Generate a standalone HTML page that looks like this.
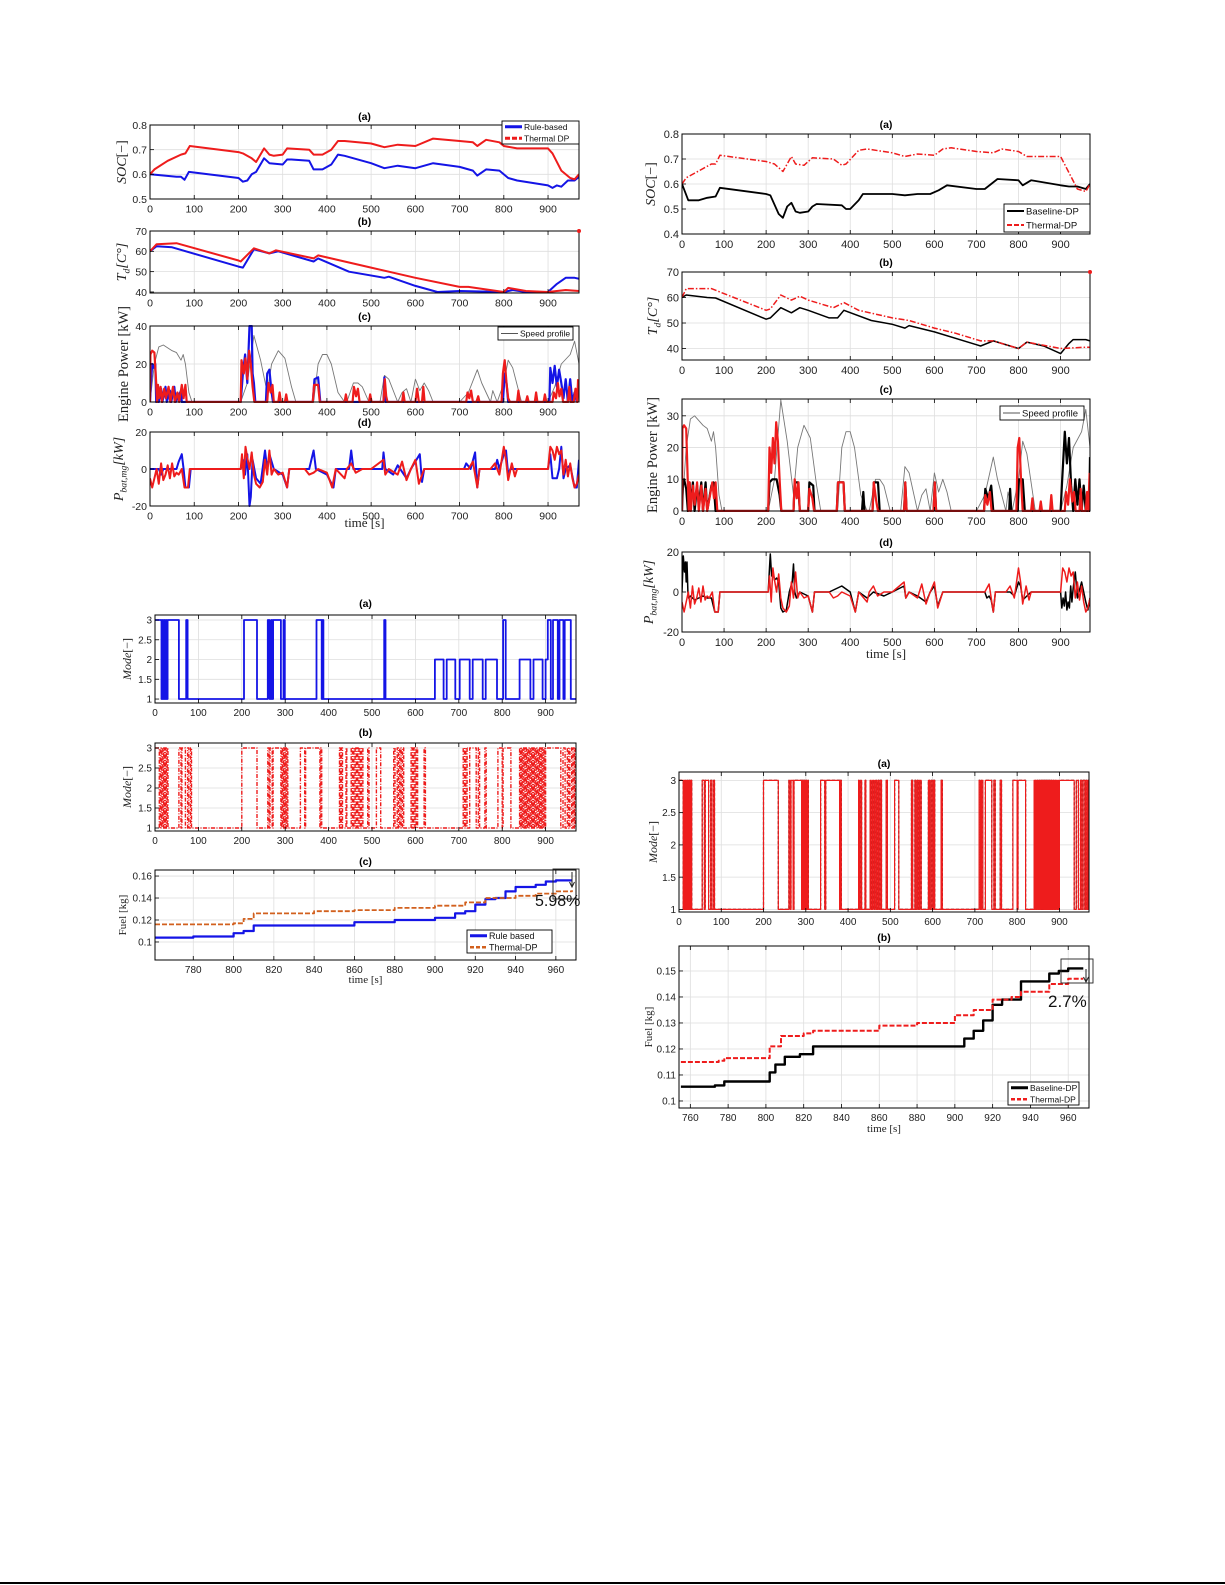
<!DOCTYPE html>
<html><head><meta charset="utf-8"><title>Rule-based vs Thermal-DP vs Baseline-DP comparison figures</title>
<style>
html,body{margin:0;padding:0;background:#fff;}
svg{display:block;}
text{font-family:"Liberation Sans",sans-serif;}
.serif{font-family:"Liberation Serif",serif;}
</style></head>
<body>
<svg id="fig" width="1225" height="1585" viewBox="0 0 1225 1585" xmlns="http://www.w3.org/2000/svg">
<rect x="0" y="0" width="1225" height="1585" fill="#fff"/>
<line x1="0" y1="1583" x2="1225" y2="1583" stroke="#000" stroke-width="2"/>
</svg>
<script>
// ===== DATA =====
const xTicks = [0,100,200,300,400,500,600,700,800,900];
const socTicks = [0.5,0.6,0.7,0.8];
const socTicksR = [0.4,0.5,0.6,0.7,0.8];
const tempTicks = [40,50,60,70];
const powTicksL = [0,20,40];
const powTicksR = [0,10,20,30];
const pbatTicks = [-20,0,20];
const modeTicks = [1,1.5,2,2.5,3];
const fuelTicksL = [0.1,0.12,0.14,0.16];
const fuelTicksR = [0.1,0.11,0.12,0.13,0.14,0.15];
const fuelXTicksL = [780,800,820,840,860,880,900,920,940,960];
const fuelXTicksR = [760,780,800,820,840,860,880,900,920,940,960];

const socRule = [[0,0.60],[60,0.59],[70,0.59],[78,0.578],[88,0.61],[200,0.585],[210,0.57],[220,0.575],[230,0.60],[240,0.61],[258,0.665],[270,0.645],[300,0.64],[310,0.66],[320,0.66],[360,0.655],[370,0.62],[390,0.62],[410,0.64],[425,0.68],[440,0.675],[500,0.645],[530,0.625],[560,0.635],[600,0.625],[640,0.645],[700,0.63],[730,0.615],[740,0.595],[760,0.62],[790,0.615],[810,0.585],[830,0.575],[900,0.555],[910,0.545],[920,0.555],[930,0.55],[945,0.575],[960,0.575],[970,0.59]];
const socThermal = [[0,0.60],[10,0.62],[40,0.655],[70,0.68],[80,0.685],[90,0.715],[200,0.69],[210,0.685],[230,0.665],[240,0.65],[258,0.705],[270,0.68],[280,0.675],[300,0.68],[310,0.705],[360,0.70],[370,0.68],[390,0.68],[410,0.70],[425,0.735],[440,0.735],[500,0.725],[530,0.71],[560,0.72],[600,0.715],[640,0.745],[700,0.735],[730,0.73],[740,0.715],[760,0.74],[790,0.73],[800,0.715],[830,0.705],[900,0.705],[910,0.685],[930,0.615],[950,0.585],[960,0.58],[970,0.60]];
const tempRule = [[0,60],[15,62.5],[50,62],[200,52.5],[210,52],[235,61],[270,59],[290,60],[370,55],[380,56.5],[450,50],[530,47],[540,47.5],[600,43],[650,40],[700,40.5],[800,40],[820,41],[850,40],[900,40],[920,44],[940,47],[960,47],[970,46.5]];
const tempThermal = [[0,60],[15,63.5],[60,64],[200,55.5],[205,55],[235,61.5],[270,59],[285,60.5],[370,56.5],[380,58],[500,52],[600,47],[700,42.5],[720,42.5],[800,40],[810,42],[850,40.5],[900,40],[940,41],[970,40.5]];
const speedProfile = [[0,0],[10,20],[20,29],[30,30],[50,27],[60,26],[70,22],[75,25],[80,20],[88,5],[95,0],[205,0],[220,10],[235,35],[250,22],[265,5],[275,20],[290,27],[305,23],[320,8],[330,0],[370,0],[380,20],[390,25],[400,25],[410,20],[425,5],[440,0],[445,0],[460,10],[470,10],[480,8],[495,0],[520,0],[530,14],[540,12],[560,0],[570,5],[580,7],[590,0],[600,12],[610,6],[620,10],[630,6],[640,0],[700,0],[720,5],[740,17],[750,10],[770,0],[775,6],[785,0],[800,10],[810,22],[820,18],[840,0],[900,0],[915,8],[930,20],[950,25],[960,32],[970,20]];
const powRule = [[0,0],[2,10],[5,20],[8,18],[12,20],[14,0],[18,8],[20,0],[25,7],[28,0],[35,8],[38,0],[45,6],[48,0],[55,8],[58,0],[70,6],[72,0],[205,0],[210,15],[215,25],[220,10],[225,40],[230,40],[232,15],[235,10],[238,0],[262,0],[265,15],[270,17],[275,5],[278,0],[368,0],[372,12],[380,13],[385,0],[528,0],[530,13],[533,0],[798,0],[802,15],[806,10],[810,0],[903,0],[905,18],[910,10],[915,19],[920,8],[925,17],[930,10],[935,2],[940,12],[945,0],[950,12],[955,0],[960,5],[965,0]];
const powThermal = [[0,0],[1,25],[5,27],[10,26],[14,10],[16,0],[18,9],[20,2],[24,8],[27,0],[32,7],[36,2],[42,8],[46,0],[52,8],[56,0],[62,5],[66,0],[72,9],[76,2],[80,9],[83,0],[205,0],[207,22],[212,15],[216,23],[220,12],[224,27],[228,20],[232,8],[236,0],[265,0],[268,10],[273,5],[277,9],[280,0],[290,0],[293,5],[296,0],[305,0],[308,4],[311,0],[368,0],[371,9],[380,9],[384,0],[440,0],[443,4],[446,0],[458,0],[461,8],[466,3],[470,7],[474,0],[495,0],[498,4],[501,0],[528,0],[531,12],[534,3],[537,0],[570,0],[573,5],[576,0],[600,0],[604,7],[608,0],[615,0],[618,8],[621,0],[715,0],[718,5],[722,2],[726,6],[730,0],[738,0],[742,3],[745,0],[795,0],[798,15],[802,22],[806,10],[810,2],[814,0],[830,0],[833,6],[836,0],[850,0],[853,3],[856,0],[870,0],[873,5],[876,0],[890,0],[893,4],[896,0],[910,0],[913,5],[918,2],[922,10],[926,3],[930,7],[934,0],[945,0],[948,8],[951,0],[958,0],[962,7],[966,0],[968,12]];
const pbatRule = [[0,0],[20,0],[25,-3],[30,0],[60,0],[65,4],[72,8],[76,0],[80,-10],[88,-10],[92,0],[205,0],[210,5],[215,-3],[220,8],[225,-20],[228,-15],[232,5],[240,-5],[250,-8],[260,10],[265,0],[270,8],[280,0],[300,-3],[310,-10],[315,0],[360,0],[370,10],[375,0],[400,-3],[415,-10],[420,0],[450,0],[455,10],[460,0],[500,0],[525,0],[528,9],[532,0],[550,-3],[560,2],[580,-5],[590,0],[610,8],[615,-7],[620,0],[710,0],[715,3],[725,0],[735,9],[740,-10],[745,0],[780,0],[785,5],[790,0],[800,8],[805,10],[810,-3],[815,0],[900,0],[905,8],[910,-5],[920,-5],[925,0],[930,12],[935,-5],[940,0],[950,2],[960,-10],[965,-10],[970,5]];
const pbatThermal = [[0,-5],[5,-10],[10,-5],[15,0],[20,-8],[25,3],[30,-6],[35,-3],[40,2],[45,-5],[50,3],[55,-4],[60,-2],[65,-3],[72,0],[78,-10],[86,-10],[90,0],[205,0],[208,8],[212,-5],[216,12],[220,6],[225,0],[230,9],[235,-3],[240,-8],[248,-10],[255,-7],[260,5],[265,-3],[270,10],[275,-3],[280,0],[290,-3],[300,-2],[310,-10],[315,0],[350,0],[360,-3],[370,-2],[380,0],[400,-2],[412,-10],[420,0],[440,-5],[445,0],[455,3],[465,-2],[480,0],[500,0],[528,5],[532,-3],[540,0],[560,-3],[570,4],[580,-6],[590,0],[600,5],[608,-8],[620,0],[700,0],[720,0],[730,4],[740,-10],[745,0],[770,0],[780,3],[790,-3],[800,12],[805,5],[810,-6],[818,3],[825,-4],[830,0],[900,0],[905,12],[910,10],[915,5],[920,12],[925,8],[930,10],[935,-3],[940,5],[945,-4],[950,3],[955,-5],[960,-10],[965,-8],[970,-3]];
const socBaseline = [[0,0.6],[15,0.535],[40,0.535],[60,0.545],[80,0.55],[90,0.585],[200,0.56],[210,0.555],[230,0.48],[240,0.465],[250,0.51],[260,0.525],[270,0.49],[280,0.485],[300,0.49],[310,0.51],[320,0.52],[380,0.515],[390,0.5],[400,0.5],[420,0.535],[430,0.56],[500,0.56],[530,0.555],[560,0.56],[590,0.56],[610,0.575],[630,0.595],[700,0.58],[720,0.58],[750,0.62],[800,0.615],[810,0.595],[830,0.615],[900,0.595],[920,0.59],[940,0.59],[960,0.58],[970,0.60]];
const socThermalR = [[0,0.6],[10,0.625],[70,0.68],[80,0.68],[90,0.715],[200,0.69],[220,0.68],[240,0.65],[260,0.71],[270,0.68],[290,0.675],[310,0.705],[360,0.7],[380,0.675],[390,0.68],[420,0.735],[440,0.74],[500,0.725],[530,0.71],[560,0.72],[600,0.715],[620,0.74],[640,0.745],[700,0.73],[740,0.725],[760,0.74],[800,0.73],[820,0.71],[900,0.71],[940,0.58],[960,0.57],[970,0.60]];
const tempBaseline = [[0,60],[10,61],[60,60],[80,59.8],[200,51.5],[210,52],[235,56],[260,54],[280,56],[300,55],[350,52],[370,52],[385,55],[450,51],[500,49.5],[530,48],[540,49],[600,46.5],[700,41.5],[710,41],[740,43],[800,40],[820,42.5],[860,41],[900,38],[920,42],[930,43.5],[960,43.5],[970,43]];
const tempThermalR = [[0,60],[10,63.5],[70,63.5],[200,55],[210,55.5],[235,61],[260,59],[280,60.5],[300,59],[360,56],[385,58],[420,55],[500,52],[540,51],[600,48],[650,46],[710,43],[740,43],[800,40],[820,42.5],[900,40],[960,40.5],[970,40.5]];
const powBaseline = [[0,0],[2,8],[5,10],[10,7],[14,0],[18,9],[21,2],[26,9],[30,0],[36,8],[40,2],[46,9],[50,0],[56,9],[60,0],[70,8],[75,9],[80,0],[205,0],[208,9],[215,10],[225,10],[232,5],[236,0],[265,0],[268,9],[276,9],[280,0],[300,0],[303,9],[312,8],[315,0],[368,0],[371,9],[384,9],[387,0],[428,0],[431,6],[434,0],[453,0],[456,9],[466,9],[470,0],[528,0],[531,9],[534,0],[598,0],[601,9],[604,0],[718,0],[721,7],[728,4],[735,8],[740,0],[778,0],[780,7],[783,0],[798,0],[801,10],[810,10],[815,0],[900,0],[904,10],[910,25],[915,15],[920,23],[925,8],[930,0],[935,10],[940,2],[945,10],[950,0],[955,8],[960,0],[968,0],[970,17]];
const powThermalR = [[0,0],[1,26],[5,27],[10,26],[14,8],[16,0],[18,9],[21,0],[26,8],[30,2],[36,9],[40,0],[46,8],[50,0],[56,7],[60,0],[72,9],[76,4],[80,9],[84,0],[205,0],[208,20],[212,12],[216,23],[220,15],[224,28],[228,22],[232,10],[236,0],[265,0],[268,10],[273,4],[277,9],[280,0],[300,0],[303,7],[310,4],[314,0],[368,0],[371,9],[384,9],[387,0],[453,0],[456,9],[462,3],[466,0],[528,0],[531,9],[534,0],[598,0],[601,9],[604,0],[718,0],[721,5],[726,2],[732,6],[736,0],[795,0],[798,20],[802,23],[806,10],[810,0],[830,0],[833,4],[836,0],[850,0],[853,3],[856,0],[875,0],[878,5],[881,0],[910,0],[913,6],[918,2],[922,10],[928,3],[932,6],[936,0],[945,0],[948,7],[951,0],[960,0],[963,6],[966,0],[969,12]];
const pbatBaselineT = [0,3,6,8,10,12,14,16,20,30,40,50,60,70,78,86,90,205,208,210,213,216,220,225,230,235,240,248,255,262,265,268,272,280,300,310,315,350,380,400,412,420,440,455,480,500,528,532,540,560,580,590,600,608,620,700,720,725,730,735,740,745,780,790,800,805,810,820,830,900,903,906,909,912,915,918,921,924,927,930,935,940,950,960,965,970];
const pbatBaselineV = [0,18,10,15,5,15,0,-3,-2,-4,-3,-2,-3,-3,-10,-10,0,0,12,19,8,10,6,7,5,-8,-10,-9,0,5,14,0,-3,0,-2,-10,0,0,3,0,-10,0,-3,0,-2,0,3,-3,0,-2,-5,0,3,-7,0,0,0,-3,-2,-4,-10,0,0,-2,5,3,-4,-2,0,0,-8,-3,-7,0,-9,-5,-8,3,-5,2,10,-3,5,-5,-9,-3];
const modeRule = [[0,3],[15,1],[17,3],[19,1],[21,3],[23,1],[25,3],[27,1],[29,3],[55,1],[72,3],[75,1],[205,3],[235,1],[260,3],[264,1],[268,3],[270,1],[272,3],[290,1],[296,3],[299,1],[372,3],[384,1],[386,3],[388,1],[528,3],[531,1],[645,2],[665,1],[672,2],[692,1],[702,2],[725,1],[732,2],[755,1],[762,2],[788,1],[802,3],[808,1],[840,2],[865,1],[872,2],[893,1],[900,2],[905,3],[912,1],[917,3],[928,1],[932,3],[941,1],[944,3],[958,1],[970,1]];
const modeThermal = [[0,3],[10,1],[12,3],[14,1],[16,3],[18,1],[20,3],[22,1],[24,3],[26,1],[28,3],[30,1],[55,3],[60,1],[62,3],[70,1],[75,3],[78,1],[82,3],[84,1],[200,3],[235,1],[260,3],[263,1],[265,3],[270,1],[272,3],[290,1],[292,3],[294,1],[296,3],[298,1],[300,3],[302,1],[304,3],[306,1],[335,3],[345,1],[347,3],[380,1],[382,3],[384,1],[425,3],[427,1],[430,3],[432,1],[440,3],[442,1],[452,3],[455,1],[458,3],[461,1],[464,3],[467,1],[470,3],[473,1],[476,3],[479,1],[490,3],[493,1],[510,3],[520,1],[550,3],[553,1],[558,3],[561,1],[564,3],[567,1],[570,3],[573,1],[590,3],[593,1],[596,3],[599,1],[602,3],[605,1],[620,3],[623,1],[710,3],[713,1],[716,3],[719,1],[725,3],[740,1],[745,3],[748,1],[760,3],[763,1],[790,3],[800,1],[802,3],[820,1],[840,3],[842,1],[844,3],[846,1],[848,3],[850,1],[852,3],[854,1],[856,3],[858,1],[860,3],[862,1],[864,3],[866,1],[868,3],[870,1],[872,3],[874,1],[876,3],[878,1],[880,3],[882,1],[884,3],[886,1],[888,3],[890,1],[892,3],[894,1],[896,3],[898,1],[900,3],[935,1],[940,3],[945,1],[950,3],[953,1],[956,3],[960,1],[963,3],[966,1],[968,3],[970,3]];
const fuelRule = [[761,0.104],[780,0.105],[800,0.108],[805,0.110],[810,0.115],[840,0.115],[860,0.118],[880,0.120],[900,0.122],[910,0.126],[915,0.128],[920,0.134],[925,0.139],[930,0.140],[935,0.146],[940,0.150],[945,0.150],[950,0.152],[955,0.155],[960,0.156],[968,0.156]];
const fuelThermal = [[761,0.116],[800,0.117],[805,0.121],[810,0.126],[840,0.128],[860,0.129],[880,0.131],[900,0.133],[915,0.136],[925,0.140],[940,0.142],[950,0.144],[960,0.146],[968,0.147]];
const fuelBaseline = [[755,0.1055],[773,0.106],[778,0.1075],[798,0.1075],[802,0.111],[805,0.114],[810,0.117],[818,0.118],[825,0.121],[900,0.121],[905,0.124],[910,0.127],[915,0.131],[920,0.137],[925,0.139],[935,0.146],[945,0.146],[950,0.149],[955,0.150],[960,0.151],[968,0.151]];
const fuelThermalR = [[755,0.115],[775,0.1155],[778,0.1165],[798,0.1165],[802,0.121],[808,0.125],[820,0.126],[825,0.127],[845,0.127],[860,0.129],[880,0.130],[900,0.133],[910,0.135],[920,0.139],[930,0.140],[935,0.142],[945,0.142],[950,0.145],[960,0.147],[968,0.147]];

// ===== RENDERING =====
const NS = 'http://www.w3.org/2000/svg';
const svg = document.getElementById('fig');
let clipN = 0;
function mk(tag, parent) { const e = document.createElementNS(NS, tag); parent.appendChild(e); return e; }
function attrs(e, o) { for (const k in o) e.setAttribute(k, o[k]); return e; }
function fmt(v) { return String(v); }

function panel(name, box, xd, yd, xt, yt) {
  const g = mk('g', svg);
  
  
  const sx = v => box.x0 + (v - xd[0]) / (xd[1] - xd[0]) * (box.x1 - box.x0);
  const sy = v => box.y1 - (v - yd[0]) / (yd[1] - yd[0]) * (box.y1 - box.y0);
  const grid = mk('g', g);
  
  
  xt.forEach(t => { const l = mk('line', grid); attrs(l, {x1: sx(t), x2: sx(t), y1: box.y0, y2: box.y1, stroke: '#dedede', 'stroke-width': 0.8}); });
  yt.forEach(t => { const l = mk('line', grid); attrs(l, {x1: box.x0, x2: box.x1, y1: sy(t), y2: sy(t), stroke: '#dedede', 'stroke-width': 0.8}); });
  const id = 'clip' + (clipN++);
  const cp = mk('clipPath', g); cp.setAttribute('id', id);
  const cr = mk('rect', cp); attrs(cr, {x: box.x0, y: box.y0 - 1, width: box.x1 - box.x0, height: box.y1 - box.y0 + 2});
  const sg = mk('g', g); sg.setAttribute('clip-path', 'url(#' + id + ')');
  
  
  return {g, sg, sx, sy, box, xt, yt, name};
}

function axes(p, fs, ytLabels, xtLabels) {
  const {g, sx, sy, box} = p;
  const fr = mk('rect', g);
  attrs(fr, {x: box.x0, y: box.y0, width: box.x1 - box.x0, height: box.y1 - box.y0, fill: 'none', stroke: '#000', 'stroke-width': 1});
  
  
  const xa = mk('g', g);
  
  
  p.xt.forEach((t, i) => {
    const l = mk('line', xa); attrs(l, {x1: sx(t), x2: sx(t), y1: box.y1, y2: box.y1 - 4, stroke: '#000', 'stroke-width': 0.8});
    const l2 = mk('line', xa); attrs(l2, {x1: sx(t), x2: sx(t), y1: box.y0, y2: box.y0 + 4, stroke: '#000', 'stroke-width': 0.8});
    const tx = mk('text', xa); attrs(tx, {x: sx(t), y: box.y1 + fs + 3, 'font-size': fs, 'text-anchor': 'middle', fill: '#222'});
    tx.textContent = xtLabels ? xtLabels[i] : fmt(t);
  });
  const ya = mk('g', g);
  
  
  p.yt.forEach((t, i) => {
    const l = mk('line', ya); attrs(l, {x1: box.x0, x2: box.x0 + 4, y1: sy(t), y2: sy(t), stroke: '#000', 'stroke-width': 0.8});
    const tx = mk('text', ya); attrs(tx, {x: box.x0 - 3, y: sy(t) + fs * 0.36, 'font-size': fs, 'text-anchor': 'end', fill: '#222'});
    tx.textContent = ytLabels ? ytLabels[i] : fmt(t);
  });
}

function title(p, txt, y) {
  const t = mk('text', p.g);
  attrs(t, {x: (p.box.x0 + p.box.x1) / 2, y: y, 'font-size': 10.5, 'font-weight': 'bold', 'text-anchor': 'middle'});
  t.textContent = txt;
  
  
}

function ylabel(p, parts, x, fs) {
  const cy = (p.box.y0 + p.box.y1) / 2;
  const t = mk('text', p.g);
  attrs(t, {x: x, y: cy, 'font-size': fs, 'text-anchor': 'middle', transform: 'rotate(-90 ' + x + ' ' + cy + ')', class: 'serif', fill: '#222'});
  
  
  parts.forEach(pt => {
    const s = mk('tspan', t);
    s.textContent = pt[0];
    if (pt[1] === 'i') s.setAttribute('font-style', 'italic');
    if (pt[1] === 'sub') { s.setAttribute('font-style', 'italic'); s.setAttribute('font-size', fs * 0.7); s.setAttribute('dy', fs * 0.25); }
    if (pt[1] === 'back') { s.setAttribute('font-style', 'italic'); s.setAttribute('dy', -fs * 0.25); }
  });
}

function xlabel(p, y, fs) {
  const t = mk('text', p.g);
  attrs(t, {x: (p.box.x0 + p.box.x1) / 2, y: y, 'font-size': fs, 'text-anchor': 'middle', class: 'serif', fill: '#222'});
  t.textContent = 'time [s]';
  
  
}

function series(p, data, name, color, w, dash, step) {
  let d = '';
  data.forEach((pt, i) => {
    const x = p.sx(pt[0]), y = p.sy(pt[1]);
    if (i === 0) d += 'M' + x.toFixed(1) + ' ' + y.toFixed(1);
    else if (step) d += 'H' + x.toFixed(1) + 'V' + y.toFixed(1);
    else d += 'L' + x.toFixed(1) + ' ' + y.toFixed(1);
  });
  const path = mk('path', p.sg);
  attrs(path, {d: d, fill: 'none', stroke: color, 'stroke-width': w, 'stroke-linejoin': 'round'});
  if (dash) path.setAttribute('stroke-dasharray', dash);
  
  
  return path;
}

function legend(x, y, w, h, entries, name, fs) {
  const g = mk('g', svg);
  
  
  const r = mk('rect', g); attrs(r, {x: x, y: y, width: w, height: h, fill: '#fff', stroke: '#000', 'stroke-width': 0.9});
  const rowH = h / entries.length;
  entries.forEach((e, i) => {
    const cy = y + rowH * (i + 0.5);
    const eg = mk('g', g);
    
    
    const l = mk('line', eg); attrs(l, {x1: x + 3, x2: x + 20, y1: cy, y2: cy, stroke: e.color, 'stroke-width': e.w});
    if (e.dash) l.setAttribute('stroke-dasharray', e.dash);
    const t = mk('text', eg); attrs(t, {x: x + 22, y: cy + fs * 0.36, 'font-size': fs, fill: '#111'});
    t.textContent = e.label;
  });
}

function note(x, y, txt, name, fs) {
  const t = mk('text', svg); attrs(t, {x: x, y: y, 'font-size': fs, fill: '#111'});
  t.textContent = txt;
  
  
}

const XD = [0, 970];
const BLUE = '#1414e6', RED = '#ee1c1c', ORANGE = '#d2601e';

// ---------- LEFT COLUMN ----------
let p;
p = panel('left-soc-panel', {x0:150,x1:579,y0:125,y1:199}, XD, [0.5,0.8], xTicks, socTicks);
series(p, socRule, 'rule-based-soc-line', BLUE, 2, null, false);
series(p, socThermal, 'thermal-dp-soc-line', RED, 2, null, false);
axes(p, 10.5, ['0.5','0.6','0.7','0.8']); title(p, '(a)', 120);
ylabel(p, [['SOC','i'],['[−]','']], 126, 14);
legend(502, 121, 77, 23, [{key:'rule-based',label:'Rule-based',color:BLUE,w:3},{key:'thermal-dp',label:'Thermal DP',color:RED,w:3,dash:'5 2'}], 'left-soc-legend', 8.5);

p = panel('left-temp-panel', {x0:150,x1:579,y0:231,y1:293}, XD, [39.5,70], xTicks, tempTicks);
series(p, tempRule, 'rule-based-temp-line', BLUE, 2, null, false);
series(p, tempThermal, 'thermal-dp-temp-line', RED, 2, null, false);
axes(p, 10.5); title(p, '(b)', 225);
ylabel(p, [['T','i'],['d','sub'],['[C°]','back']], 126, 14);
{ const c = mk('circle', p.g); attrs(c, {cx: p.sx(970), cy: p.sy(70), r: 2, fill: RED});   }

p = panel('left-power-panel', {x0:150,x1:579,y0:326,y1:402}, XD, [0,40], xTicks, powTicksL);
series(p, speedProfile, 'speed-profile-line', '#777', 0.9, null, false);
series(p, powRule, 'rule-based-power-line', BLUE, 2.2, null, false);
series(p, powThermal, 'thermal-dp-power-line', RED, 2.2, null, false);
axes(p, 10.5); title(p, '(c)', 320);
ylabel(p, [['Engine Power [kW]','']], 128, 14.5);
legend(498, 327, 75, 13, [{key:'speed-profile',label:'Speed profile',color:'#555',w:0.9}], 'left-power-legend', 8.5);

p = panel('left-pbat-panel', {x0:150,x1:579,y0:432,y1:506}, XD, [-20,20], xTicks, pbatTicks);
series(p, pbatRule, 'rule-based-pbat-line', BLUE, 2, null, false);
series(p, pbatThermal, 'thermal-dp-pbat-line', RED, 2, null, false);
axes(p, 10.5); title(p, '(d)', 426);
ylabel(p, [['P','i'],['bat,mg','sub'],['[kW]','back']], 123, 14);
xlabel(p, 527, 13);

p = panel('left-mode-rule-panel', {x0:155,x1:576,y0:615,y1:703}, XD, [0.9,3.127], xTicks, modeTicks);
series(p, modeRule, 'rule-based-mode-line', BLUE, 1.8, null, true);
axes(p, 10); title(p, '(a)', 607);
ylabel(p, [['Mode','i'],['[−]','']], 131, 12);

p = panel('left-mode-thermal-panel', {x0:155,x1:576,y0:743,y1:831}, XD, [0.925,3.125], xTicks, modeTicks);
series(p, modeThermal, 'thermal-dp-mode-line', RED, 1.4, '4 1.5 1 1.5', true);
axes(p, 10); title(p, '(b)', 736);
ylabel(p, [['Mode','i'],['[−]','']], 131, 12);

p = panel('left-fuel-panel', {x0:155,x1:576,y0:870,y1:960}, [761,970], [0.0836,0.1655], fuelXTicksL, fuelTicksL);
series(p, fuelRule, 'rule-based-fuel-line', BLUE, 2.2, null, true);
series(p, fuelThermal, 'thermal-dp-fuel-line', ORANGE, 1.8, '5 2', true);
axes(p, 10, ['0.1','0.12','0.14','0.16']); title(p, '(c)', 865);
ylabel(p, [['Fuel [kg]','']], 126, 11);
xlabel(p, 983, 11);
legend(467, 930, 85, 23, [{key:'rule-based-fuel',label:'Rule based',color:BLUE,w:3},{key:'thermal-dp-fuel',label:'Thermal-DP',color:ORANGE,w:2.5,dash:'4 2'}], 'left-fuel-legend', 9);
{ const r = mk('rect', svg); attrs(r, {x:553, y:869, width:26, height:30, fill:'none', stroke:'#222', 'stroke-width':0.9});  
  const a = mk('path', svg); attrs(a, {d:'M572 872 V886 M569.5 882 L572 887 L574.5 882', fill:'none', stroke:'#222', 'stroke-width':1});   }
note(535, 906, '5.98%', 'left-fuel-percent-label', 16);

// ---------- RIGHT COLUMN ----------
p = panel('right-soc-panel', {x0:682,x1:1090,y0:134,y1:234}, XD, [0.4,0.8], xTicks, socTicksR);
series(p, socBaseline, 'baseline-dp-soc-line', '#000', 1.8, null, false);
series(p, socThermalR, 'thermal-dp-soc-line-right', RED, 1.5, '6 2 1.5 2', false);
axes(p, 11); title(p, '(a)', 128);
ylabel(p, [['SOC','i'],['[−]','']], 655, 14);
legend(1004, 204, 86, 28, [{key:'baseline-dp',label:'Baseline-DP',color:'#000',w:2},{key:'thermal-dp-right',label:'Thermal-DP',color:RED,w:2,dash:'5 2'}], 'right-soc-legend', 9.5);

p = panel('right-temp-panel', {x0:682,x1:1090,y0:272,y1:360}, XD, [35.5,70], xTicks, tempTicks);
series(p, tempBaseline, 'baseline-dp-temp-line', '#000', 1.5, null, false);
series(p, tempThermalR, 'thermal-dp-temp-line-right', RED, 1.5, '6 2 1.5 2', false);
axes(p, 11); title(p, '(b)', 266);
ylabel(p, [['T','i'],['d','sub'],['[C°]','back']], 657, 14);
{ const c = mk('circle', p.g); attrs(c, {cx: p.sx(970), cy: p.sy(70), r: 2, fill: RED});   }

p = panel('right-power-panel', {x0:682,x1:1090,y0:399,y1:511}, XD, [0,35.3], xTicks, powTicksR);
series(p, speedProfile, 'speed-profile-line-right', '#777', 0.9, null, false);
series(p, powBaseline, 'baseline-dp-power-line', '#000', 2.2, null, false);
series(p, powThermalR, 'thermal-dp-power-line-right', RED, 2.2, null, false);
axes(p, 11); title(p, '(c)', 393);
ylabel(p, [['Engine Power [kW]','']], 657, 14.5);
legend(1000, 406, 84, 14, [{key:'speed-profile-right',label:'Speed profile',color:'#555',w:0.9}], 'right-power-legend', 9.5);

p = panel('right-pbat-panel', {x0:682,x1:1090,y0:552,y1:632}, XD, [-20,20], xTicks, pbatTicks);
series(p, pbatBaselineT.map((t, i) => [t, pbatBaselineV[i]]), 'baseline-dp-pbat-line', '#000', 1.5, null, false);
series(p, pbatThermal, 'thermal-dp-pbat-line-right', RED, 1.5, null, false);
axes(p, 11); title(p, '(d)', 546);
ylabel(p, [['P','i'],['bat,mg','sub'],['[kW]','back']], 653, 14);
xlabel(p, 658, 13);

p = panel('right-mode-panel', {x0:679,x1:1089,y0:772,y1:912}, XD, [0.96,3.13], xTicks, modeTicks);
series(p, modeThermal, 'baseline-dp-mode-line', '#000', 1.2, '3 2', true);
series(p, modeThermal, 'thermal-dp-mode-line-right', RED, 1.2, null, true);
axes(p, 10); title(p, '(a)', 767);
ylabel(p, [['Mode','i'],['[−]','']], 657, 12);

p = panel('right-fuel-panel', {x0:679,x1:1089,y0:946,y1:1108}, [754,971], [0.0973,0.1596], fuelXTicksR, fuelTicksR);
series(p, fuelBaseline, 'baseline-dp-fuel-line', '#000', 2.4, null, true);
series(p, fuelThermalR, 'thermal-dp-fuel-line-right', RED, 2, '5 2', true);
axes(p, 10, ['0.1','0.11','0.12','0.13','0.14','0.15']); title(p, '(b)', 941);
ylabel(p, [['Fuel [kg]','']], 652, 11);
xlabel(p, 1132, 11);
legend(1008, 1082, 71, 23, [{key:'baseline-dp-fuel',label:'Baseline-DP',color:'#000',w:3},{key:'thermal-dp-fuel-right',label:'Thermal-DP',color:RED,w:2.5,dash:'4 2'}], 'right-fuel-legend', 8.5);
{ const r = mk('rect', svg); attrs(r, {x:1061, y:959, width:32, height:24, fill:'none', stroke:'#222', 'stroke-width':0.9});  
  const a = mk('path', svg); attrs(a, {d:'M1086 969 V981 M1083.5 977 L1086 982 L1088.5 977', fill:'none', stroke:'#222', 'stroke-width':1});   }
note(1048, 1007, '2.7%', 'right-fuel-percent-label', 17);
</script>
</body></html>
